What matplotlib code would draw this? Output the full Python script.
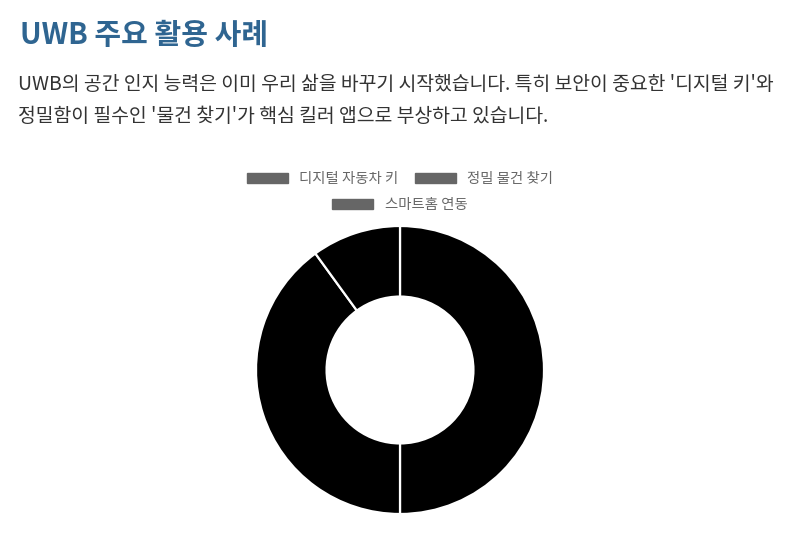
import matplotlib
matplotlib.use("Agg")
import matplotlib.pyplot as plt
from matplotlib.patches import Rectangle

plt.rcParams['font.family'] = ['Noto Sans CJK KR', 'DejaVu Sans']

title = "UWB 주요 활용 사례"
body_lines = [
    "UWB의 공간 인지 능력은 이미 우리 삶을 바꾸기 시작했습니다. 특히 보안이 중요한 '디지털 키'와",
    "정밀함이 필수인 '물건 찾기'가 핵심 킬러 앱으로 부상하고 있습니다.",
]
labels = ["디지털 자동차 키", "정밀 물건 찾기", "스마트홈 연동"]
values = [50, 40, 10]

W, H = 800, 536
fig = plt.figure(figsize=(8, 5.36), dpi=100)
fig.patch.set_facecolor('white')

fig.text(20 / W, 1 - 35 / H, title, fontsize=20.9, fontweight='bold',
         color='#2f6591', ha='left', va='center')
for i, line in enumerate(body_lines):
    fig.text(18 / W, 1 - (84 + 33 * i) / H, line, fontsize=13.95,
             color='#333333', ha='left', va='center')

# donut
cx, cy, r = 400, 370, 144
ax = fig.add_axes([(cx - r) / W, (H - cy - r) / H, 2 * r / W, 2 * r / H])
ax.pie(values, colors=['#000000'] * len(values), startangle=90,
       counterclock=False,
       wedgeprops=dict(width=0.49, edgecolor='white', linewidth=1.6))
ax.set_xlim(-1.0, 1.0)
ax.set_ylim(-1.0, 1.0)
ax.set_aspect('equal')
ax.axis('off')

# legend (two centered rows, like Chart.js)
def make_handles(idx):
    return [Rectangle((0, 0), 1, 1, facecolor='#666666', edgecolor='#666666') for _ in idx]

common = dict(frameon=False, fontsize=10.35, labelcolor='#666666',
              handlelength=2.85, handleheight=0.7, handletextpad=0.8,
              columnspacing=1.1, borderpad=0, borderaxespad=0)
row1 = [0, 1]
row2 = [2]
leg1 = fig.legend(make_handles(row1), [labels[i] for i in row1], loc='center',
                  bbox_to_anchor=(400 / W, 1 - 179 / H), ncol=len(row1), **common)
leg2 = fig.legend(make_handles(row2), [labels[i] for i in row2], loc='center',
                  bbox_to_anchor=(400 / W, 1 - 205 / H), ncol=len(row2), **common)

fig.savefig('out.png', dpi=100, facecolor='white')
